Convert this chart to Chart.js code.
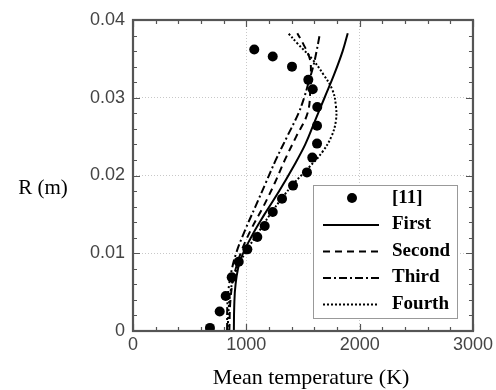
<!DOCTYPE html>
<html>
<head>
<meta charset="utf-8">
<script src="https://cdn.jsdelivr.net/npm/chart.js@4.4.0/dist/chart.umd.min.js"></script>
<style>
  html, body { margin: 0; padding: 0; background: #fff; }
  #wrap { width: 496px; height: 390px; }
</style>
</head>
<body>
<div id="wrap"><canvas id="tempChart" width="496" height="390"></canvas></div>
<script>
// reference data [11]
const refTemp = [1070, 1233, 1403, 1547, 1586, 1626, 1624, 1624, 1582, 1535, 1412, 1315, 1233, 1162, 1097, 1009, 933, 871, 818, 765, 679];
const refR = [0.0362, 0.0353, 0.0340, 0.0323, 0.0311, 0.0288, 0.0264, 0.0241, 0.0223, 0.0204, 0.0187, 0.0170, 0.0153, 0.0135, 0.0121, 0.0105, 0.0089, 0.0069, 0.0045, 0.0025, 0.0004];

// simulation curves
const firstTemp = [890, 893, 905, 945, 1040, 1160, 1290, 1410, 1520, 1605, 1690, 1775, 1850, 1895];
const firstR = [0, 0.003, 0.006, 0.009, 0.012, 0.015, 0.018, 0.021, 0.024, 0.027, 0.030, 0.033, 0.036, 0.0383];

const secondTemp = [850, 860, 890, 950, 1040, 1150, 1250, 1340, 1440, 1540, 1565, 1570, 1560, 1500, 1450];
const secondR = [0, 0.004, 0.007, 0.010, 0.013, 0.016, 0.019, 0.022, 0.025, 0.028, 0.031, 0.033, 0.035, 0.037, 0.0383];

const thirdTemp = [830, 835, 860, 910, 990, 1080, 1170, 1260, 1360, 1460, 1510, 1550, 1590, 1620, 1650];
const thirdR = [0, 0.004, 0.007, 0.010, 0.013, 0.016, 0.019, 0.022, 0.025, 0.028, 0.030, 0.032, 0.034, 0.036, 0.0383];

const fourthTemp = [835, 845, 860, 890, 950, 1030, 1120, 1210, 1310, 1420, 1550, 1670, 1750, 1790, 1790, 1760, 1680, 1580, 1450, 1370];
const fourthR = [0, 0.003, 0.005, 0.007, 0.009, 0.011, 0.013, 0.015, 0.017, 0.019, 0.021, 0.023, 0.025, 0.027, 0.029, 0.031, 0.033, 0.035, 0.037, 0.0383];

const seriesNames = ['[11]', 'First', 'Second', 'Third', 'Fourth'];
const xTicks = [0, 1000, 2000, 3000];
const yTicks = [0, 0.01, 0.02, 0.03, 0.04];

function pairs(xs, ys) {
    return xs.map((x, i) => ({ x: x, y: ys[i] }));
}

// frame + inward ticks on all four sides
const framePlugin = {
    id: 'frame',
    afterDatasetsDraw(chart) {
        const ctx = chart.ctx;
        const a = chart.chartArea;
        const xs = chart.scales.x;
        const ys = chart.scales.y;
        ctx.save();
        ctx.strokeStyle = '#555';
        ctx.lineWidth = 1.2;
        for (let v = 0; v <= 3000; v += 200) {
            const px = Math.round(xs.getPixelForValue(v)) + 0.5;
            const len = v % 1000 === 0 ? 7 : 4;
            ctx.beginPath();
            ctx.moveTo(px, a.bottom); ctx.lineTo(px, a.bottom - len);
            ctx.moveTo(px, a.top); ctx.lineTo(px, a.top + len);
            ctx.stroke();
        }
        for (let i = 0; i <= 20; i++) {
            const v = i * 0.002;
            const py = Math.round(ys.getPixelForValue(v)) + 0.5;
            const len = i % 5 === 0 ? 7 : 4;
            ctx.beginPath();
            ctx.moveTo(a.left, py); ctx.lineTo(a.left + len, py);
            ctx.moveTo(a.right, py); ctx.lineTo(a.right - len, py);
            ctx.stroke();
        }
        ctx.lineWidth = 2.2;
        ctx.strokeStyle = '#555';
        ctx.strokeRect(a.left, a.top, a.right - a.left, a.bottom - a.top);
        ctx.restore();
    }
};

// legend box inside the plot + axis titles
const legendPlugin = {
    id: 'boxLegend',
    afterDraw(chart) {
        const ctx = chart.ctx;
        ctx.save();
        ctx.fillStyle = '#fff';
        ctx.fillRect(313, 185, 144, 133);
        ctx.strokeStyle = '#999';
        ctx.lineWidth = 1;
        ctx.strokeRect(313.5, 185.5, 144, 133);

        ctx.font = 'bold 19px "Liberation Serif", "Times New Roman", serif';
        ctx.textBaseline = 'middle';
        chart.data.datasets.forEach((ds, i) => {
            const y = 198 + i * 26.5;
            if (i === 0) {
                ctx.fillStyle = '#000';
                ctx.beginPath();
                ctx.arc(352, y, 5, 0, Math.PI * 2);
                ctx.fill();
            } else {
                ctx.strokeStyle = '#000';
                ctx.lineWidth = ds.borderWidth;
                ctx.setLineDash(ds.borderDash || []);
                ctx.beginPath();
                ctx.moveTo(323, y + 0.5);
                ctx.lineTo(379, y + 0.5);
                ctx.stroke();
                ctx.setLineDash([]);
            }
            ctx.fillStyle = '#000';
            ctx.textAlign = 'left';
            ctx.fillText(seriesNames[i], 392, y);
        });

        ctx.font = '22px "Liberation Serif", "Times New Roman", serif';
        ctx.textAlign = 'center';
        ctx.fillText('Mean temperature (K)', 311, 378);
        ctx.font = '21px "Liberation Serif", "Times New Roman", serif';
        ctx.fillText('R (m)', 43, 188);
        ctx.restore();
    }
};

const ctx = document.getElementById('tempChart').getContext('2d');
const tempChart = new Chart(ctx, {
    type: 'scatter',
    data: {
        datasets: [
            {
                label: seriesNames[0],
                data: pairs(refTemp, refR),
                showLine: false,
                pointRadius: 5,
                pointBackgroundColor: '#000',
                pointBorderWidth: 0
            },
            {
                label: seriesNames[1],
                data: pairs(firstTemp, firstR),
                showLine: true,
                borderColor: '#000',
                borderWidth: 2,
                pointRadius: 0,
                tension: 0.4
            },
            {
                label: seriesNames[2],
                data: pairs(secondTemp, secondR),
                showLine: true,
                borderColor: '#000',
                borderWidth: 2,
                borderDash: [7, 5],
                pointRadius: 0,
                tension: 0.4
            },
            {
                label: seriesNames[3],
                data: pairs(thirdTemp, thirdR),
                showLine: true,
                borderColor: '#000',
                borderWidth: 2,
                borderDash: [8, 3, 2, 3],
                pointRadius: 0,
                tension: 0.4
            },
            {
                label: seriesNames[4],
                data: pairs(fourthTemp, fourthR),
                showLine: true,
                borderColor: '#000',
                borderWidth: 2,
                borderDash: [2, 2],
                pointRadius: 0,
                tension: 0.4
            }
        ]
    },
    options: {
        responsive: false,
        animation: false,
        layout: { padding: { left: 0, right: 23, top: 20, bottom: 0 } },
        plugins: {
            legend: { display: false },
            tooltip: { enabled: false }
        },
        scales: {
            x: {
                type: 'linear',
                min: 0,
                max: 3000,
                afterBuildTicks: s => { s.ticks = xTicks.map(v => ({ value: v })); },
                afterFit: s => { s.height = 59; },
                grid: { color: '#c8c8c8', lineWidth: 1, drawTicks: false },
                border: { display: false, dash: [1, 2] },
                ticks: {
                    padding: 3,
                    color: '#444',
                    font: { family: '"Liberation Sans", Arial, sans-serif', size: 18 },
                    callback: v => String(v)
                }
            },
            y: {
                type: 'linear',
                min: 0,
                max: 0.04,
                afterBuildTicks: s => { s.ticks = yTicks.map(v => ({ value: v })); },
                afterFit: s => { s.width = 133; },
                grid: { color: '#c8c8c8', lineWidth: 1, drawTicks: false },
                border: { display: false, dash: [1, 2] },
                ticks: {
                    padding: 8,
                    color: '#444',
                    font: { family: '"Liberation Sans", Arial, sans-serif', size: 18 },
                    callback: v => (v === 0 ? '0' : v.toFixed(2))
                }
            }
        }
    },
    plugins: [framePlugin, legendPlugin]
});
</script>
</body>
</html>
